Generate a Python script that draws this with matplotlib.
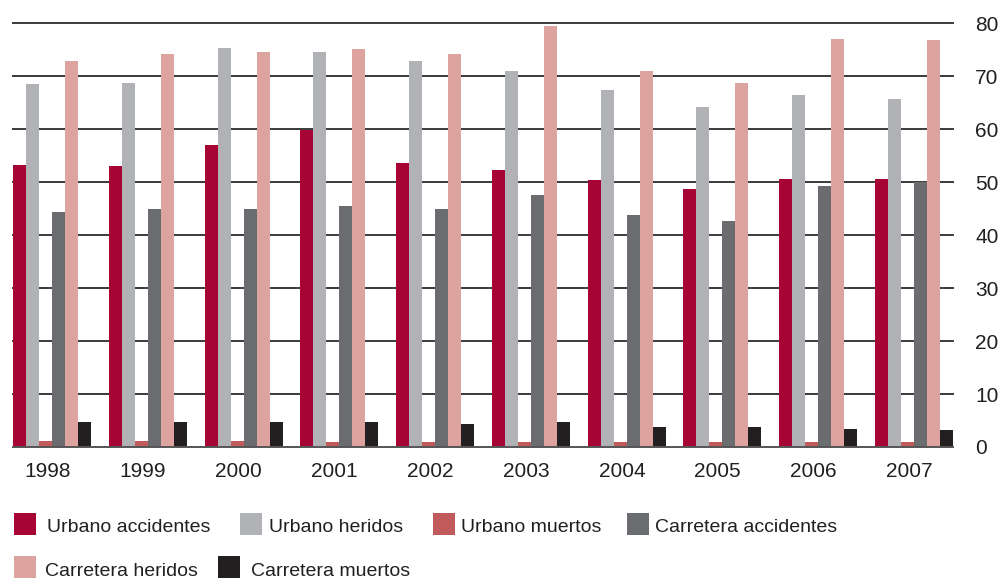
import matplotlib
matplotlib.use("Agg")
import matplotlib.pyplot as plt
from matplotlib.patches import Rectangle
import numpy as np

plt.rcParams['font.family'] = ['Liberation Sans', 'DejaVu Sans']

years = ['1998', '1999', '2000', '2001', '2002', '2003', '2004', '2005', '2006', '2007']
series_names = ['Urbano accidentes', 'Urbano heridos', 'Urbano muertos',
                'Carretera accidentes', 'Carretera heridos', 'Carretera muertos']
urbano_accidentes = [53.2, 53.0, 57.0, 59.8, 53.6, 52.3, 50.4, 48.7, 50.6, 50.6]
urbano_heridos = [68.5, 68.7, 75.3, 74.5, 72.8, 70.9, 67.4, 64.2, 66.4, 65.8]
urbano_muertos = [1.1, 1.1, 1.1, 0.9, 0.9, 0.9, 0.9, 0.9, 0.9, 0.9]
carretera_accidentes = [44.3, 44.9, 44.9, 45.5, 44.9, 47.5, 43.8, 42.6, 49.2, 50.0]
carretera_heridos = [72.8, 74.2, 74.5, 75.1, 74.2, 79.4, 70.9, 68.7, 77.0, 76.8]
carretera_muertos = [4.8, 4.7, 4.7, 4.7, 4.3, 4.7, 3.8, 3.8, 3.4, 3.2]

series = [urbano_accidentes, urbano_heridos, urbano_muertos,
          carretera_accidentes, carretera_heridos, carretera_muertos]
colors = ['#a60434', '#b1b2b6', '#c05a5b', '#6b6c70', '#dda39e', '#231f20']
text_color = '#231f20'

W, H = 1006, 581
fig = plt.figure(figsize=(W / 100, H / 100), dpi=100)
ax_left, ax_right, ax_top, ax_bot = 13, 953, 23.3, 447
ax = fig.add_axes([ax_left / W, 1 - ax_bot / H, (ax_right - ax_left) / W, (ax_bot - ax_top) / H])

n = len(years)
x = np.arange(n)
bw = 0.1357
for i, (vals, c) in enumerate(zip(series, colors)):
    ax.bar(x + (i - 2.5) * bw, vals, width=bw, color=c, zorder=3, linewidth=0)

ax.set_xlim(-3 * bw, n - 1 + 3 * bw)
ax.set_ylim(0, 80)
ax.set_yticks(np.arange(0, 81, 10))
ax.yaxis.tick_right()
ax.tick_params(axis='y', length=0, pad=16, labelsize=15, labelcolor=text_color)
ax.set_xticks(x - 0.05)
ax.set_xticklabels(years)
ax.tick_params(axis='x', length=0, pad=11, labelsize=15, labelcolor=text_color)

for v in range(10, 81, 10):
    ax.axhline(v, color='#3a3a3a', lw=1.4, zorder=1, clip_on=False)
ax.axhline(0, color='#555555', lw=1.4, zorder=4, clip_on=False)

for s in ax.spines.values():
    s.set_visible(False)

# legend, manual layout
legend_items = [
    (0, 14, 513, 47, 528),
    (1, 240, 513, 269, 528),
    (2, 433, 513, 461, 528),
    (3, 627, 513, 655, 528),
    (4, 14, 556, 45, 572),
    (5, 218, 556, 251, 572),
]
for idx, sx, sy, tx, ty in legend_items:
    fig.patches.append(Rectangle((sx / W, 1 - (sy + 22) / H), 22 / W, 22 / H,
                                 transform=fig.transFigure, color=colors[idx], lw=0))
    fig.text(tx / W, 1 - ty / H, series_names[idx], fontsize=14, color=text_color,
             ha='left', va='center')

fig.savefig('out.png', dpi=100)
